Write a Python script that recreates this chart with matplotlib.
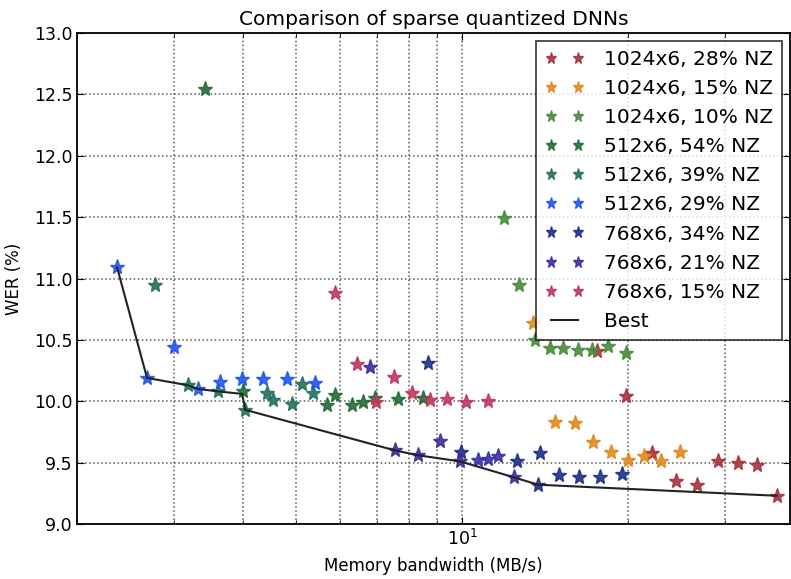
import numpy as np
import matplotlib
matplotlib.use('Agg')
import matplotlib.pyplot as plt
from matplotlib.ticker import LogLocator, NullFormatter

# memory bandwidth (MB/s) and WER (%) for each network config
labels = ['1024x6, 28% NZ', '1024x6, 15% NZ', '1024x6, 10% NZ',
          '512x6, 54% NZ', '512x6, 39% NZ', '512x6, 29% NZ',
          '768x6, 34% NZ', '768x6, 21% NZ', '768x6, 15% NZ']
colors = ['#a8323a', '#e0891e', '#4a8c3c', '#236b36', '#24705e',
          '#2255ee', '#1e2f8a', '#3a2e9e', '#c0365e']

bw_1024_28 = [17.6, 19.84, 22.1, 24.45, 26.7, 29.15, 31.7, 34.3, 37.3]
wer_1024_28 = [10.41, 10.04, 9.58, 9.35, 9.32, 9.51, 9.50, 9.48, 9.23]
bw_1024_15 = [13.45, 14.75, 16.04, 17.29, 18.64, 20.0, 21.4, 22.97, 24.86]
wer_1024_15 = [10.64, 9.83, 9.82, 9.67, 9.59, 9.52, 9.55, 9.51, 9.59]
bw_1024_10 = [11.92, 12.69, 13.56, 14.44, 15.25, 16.24, 17.22, 18.41, 19.84]
wer_1024_10 = [11.49, 10.95, 10.50, 10.43, 10.43, 10.42, 10.42, 10.45, 10.39]
bw_512_54 = [3.42, 4.0, 5.69, 5.88, 6.32, 6.61, 6.95, 7.65, 8.5]
wer_512_54 = [12.54, 10.08, 9.97, 10.05, 9.97, 9.99, 10.03, 10.02, 10.03]
bw_512_39 = [2.77, 3.18, 3.61, 4.04, 4.43, 4.54, 4.92, 5.12, 5.37]
wer_512_39 = [10.95, 10.13, 10.08, 9.93, 10.07, 10.01, 9.98, 10.14, 10.07]
bw_512_29 = [2.365, 2.68, 3.0, 3.32, 3.64, 3.99, 4.35, 4.81, 5.41]
wer_512_29 = [11.09, 10.19, 10.44, 10.10, 10.16, 10.18, 10.18, 10.18, 10.15]
bw_768_34 = [8.68, 9.96, 12.59, 13.85, 13.74, 15.0, 16.31, 17.8, 19.51]
wer_768_34 = [10.31, 9.59, 9.51, 9.58, 9.32, 9.40, 9.38, 9.38, 9.41]
bw_768_21 = [6.81, 7.55, 8.32, 9.12, 9.92, 10.69, 11.15, 11.62, 12.43]
wer_768_21 = [10.28, 9.60, 9.56, 9.68, 9.51, 9.52, 9.53, 9.55, 9.38]
bw_768_15 = [5.88, 6.45, 6.98, 7.53, 8.11, 8.75, 9.39, 10.17, 11.15]
wer_768_15 = [10.88, 10.30, 9.99, 10.20, 10.07, 10.01, 10.02, 9.99, 10.00]

bw_best = [2.365, 2.68, 3.18, 3.32, 3.61, 3.99, 4.04, 7.55, 8.32, 9.92, 12.43, 13.74, 37.3]
wer_best = [11.09, 10.19, 10.13, 10.10, 10.08, 10.06, 9.93, 9.60, 9.56, 9.51, 9.38, 9.32, 9.23]

bws = [bw_1024_28, bw_1024_15, bw_1024_10, bw_512_54, bw_512_39, bw_512_29,
       bw_768_34, bw_768_21, bw_768_15]
wers = [wer_1024_28, wer_1024_15, wer_1024_10, wer_512_54, wer_512_39, wer_512_29,
        wer_768_34, wer_768_21, wer_768_15]

plt.rcParams['font.family'] = 'DejaVu Sans'

fig = plt.figure(figsize=(7.91, 5.79), dpi=100)
ax = fig.add_axes([77 / 791, 1 - 524 / 579, 713 / 791, 491 / 579])

for x, y, c, lab in zip(bws, wers, colors, labels):
    ax.plot(x, y, '*', color=c, markeredgecolor=c, markersize=11, alpha=0.9, label=lab)
ax.plot(bw_best, wer_best, '-', color='#222222', linewidth=1.5, label='Best')

ax.set_xscale('log')
ax.set_xlim(2, 39.4)
ax.set_ylim(9.0, 13.0)
ax.xaxis.set_minor_locator(LogLocator(base=10, subs=np.arange(2, 10)))
ax.xaxis.set_minor_formatter(NullFormatter())
ax.set_yticks(np.arange(9.0, 13.01, 0.5))
ax.set_yticklabels(['%.1f' % v for v in np.arange(9.0, 13.01, 0.5)])

ax.grid(True, which='both', axis='x', linestyle=':', color='0.35', linewidth=1.1)
ax.grid(True, which='major', axis='y', linestyle=':', color='0.35', linewidth=1.1)
ax.tick_params(which='both', direction='in', top=True, right=True, labelsize=12.5)
ax.tick_params(which='major', length=5)
ax.tick_params(which='minor', length=3)
for s in ax.spines.values():
    s.set_linewidth(1.3)

ax.set_title('Comparison of sparse quantized DNNs', fontsize=14.5, pad=6)
ax.set_xlabel('Memory bandwidth (MB/s)', fontsize=12, labelpad=6)
ax.set_ylabel('WER (%)', fontsize=12, labelpad=8)

leg = ax.legend(loc='upper right', numpoints=2, fontsize=14.5, markerscale=0.75,
                fancybox=False, borderaxespad=0.4, labelspacing=0.5,
                handlelength=1.9, handletextpad=1.0, borderpad=0.45)
leg.get_frame().set_edgecolor('black')
leg.get_frame().set_linewidth(1.2)

plt.savefig('out.png', dpi=100)
